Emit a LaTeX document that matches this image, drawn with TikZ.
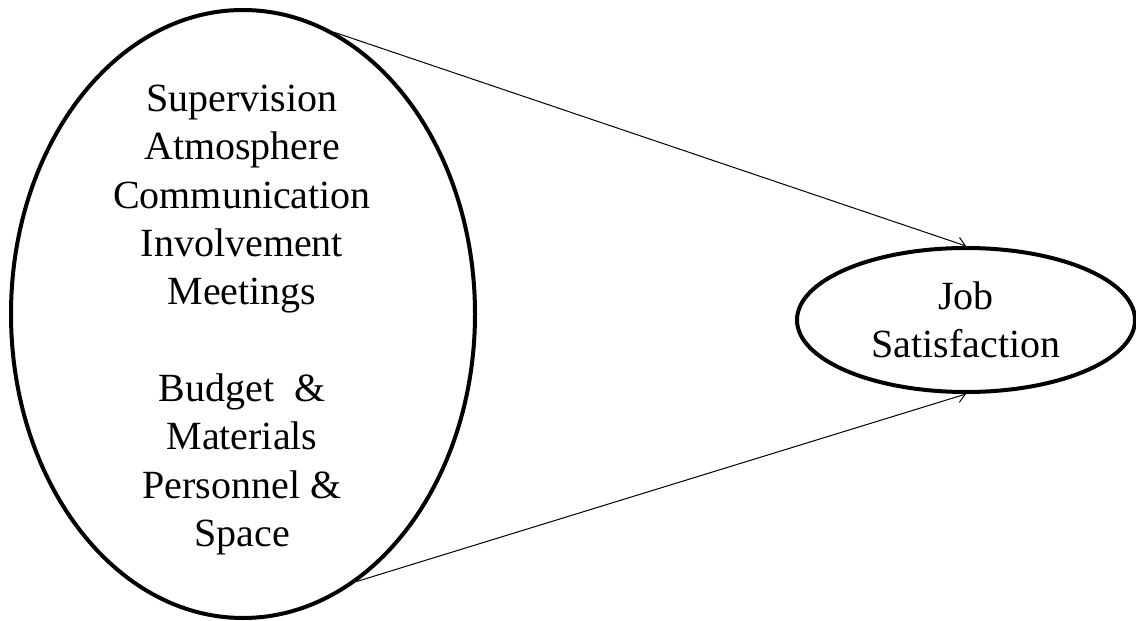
\documentclass[tikz,border=0pt]{standalone}
\usepackage{fontspec}
\setmainfont{Liberation Serif}
\usepackage{tikz}
\usetikzlibrary{shapes.geometric,arrows.meta,positioning}

\begin{document}
\begin{tikzpicture}[x=0.5pt,y=-0.5pt,>={Straight Barb[length=4pt,width=6pt]},
    oval/.style={ellipse, draw, line width=2pt, inner sep=0pt},
    txt/.style={font=\fontsize{20}{24.15}\selectfont, align=center}]
    \useasboundingbox (0,0) rectangle (1136,621);

    \node[oval, minimum width=232pt, minimum height=304pt] (factors) at (243,314) {};
    \node[txt]                                             (items)   at (242,320)
        {Supervision\\Atmosphere\\Communication\\Involvement\\Meetings\\[24.15pt]
         Budget\ \ \&\\Materials\\Personnel \&\\Space};
    \node[oval, txt, minimum width=169pt, minimum height=72pt] (job) at (966,320)
        {Job\\Satisfaction};

    \path[->, line width=0.5pt]
    (factors.72.6)  edge (job.north)
    (factors.-67.9) edge (job.south)
    ;
\end{tikzpicture}
\end{document}
